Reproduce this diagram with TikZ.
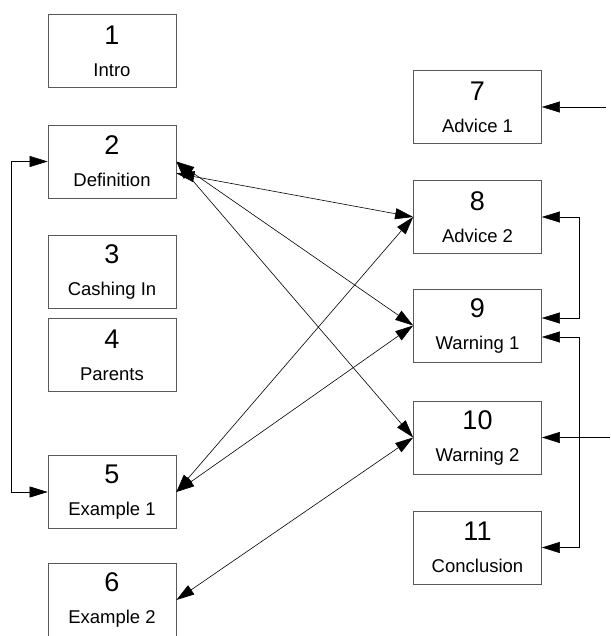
\documentclass[tikz,border=0pt]{standalone}
\usepackage{fontspec}
\setmainfont{Liberation Sans}
\usepackage{tikz}
\usetikzlibrary{arrows.meta}

\newcommand{\pgno}[1]{{\fontsize{27}{27}\selectfont #1}}

\begin{document}
\begin{tikzpicture}[x=1pt,y=-1pt,
    page/.style={draw=black!65,line width=0.7pt,minimum width=128pt,minimum height=73pt,align=center,font=\fontsize{18.5}{32}\selectfont},
    link/.style={line width=0.6pt,{Triangle[length=18pt,width=11pt]}-{Triangle[length=18pt,width=11pt]}},
    feed/.style={line width=0.6pt,{Triangle[length=18pt,width=11pt]}-}] %
    \useasboundingbox (0,0) rectangle (610,636);
    % left column
    \node[page] (intro) at (112,51) {\pgno{1}\\Intro} ; %
    \node[page] (defn) at (112,161.5) {\pgno{2}\\Definition} ; %
    \node[page] (cash) at (112,272) {\pgno{3}\\Cashing In} ; %
    \node[page] (parents) at (112,355) {\pgno{4}\\Parents} ;
    \node[page] (ex1) at (112,492) {\pgno{5}\\Example 1} ;
    \node[page] (ex2) at (112,600) {\pgno{6}\\Example 2} ;
    % right column
    \node[page] (adv1) at (477.5,107) {\pgno{7}\\Advice 1} ; %
    \node[page] (adv2) at (477.5,217) {\pgno{8}\\Advice 2} ;
    \node[page] (warn1) at (477.5,325.5) {\pgno{9}\\Warning 1} ;
    \node[page] (warn2) at (477.5,437.5) {\pgno{10}\\Warning 2} ;
    \node[page] (concl) at (477.5,547.5) {\pgno{11}\\Conclusion} ;
    \coordinate (in7) at (606,107) ;
    \coordinate (in10) at (610,437.5) ;
    \draw[link] (defn)--(adv2.west) ; %
    \draw[link] (defn.east)--(warn1.west) ;
    \draw[link] (defn.east)--(warn2.west) ;
    \draw[link] (ex1.east)--(adv2.west) ;
    \draw[link] (ex1.east)--(warn1.west) ;
    \draw[link] (ex2.east)--(warn2.west) ;
    \draw[link] (defn.west) -- ++(-36,0) |- (ex1.west) ;
    \draw[link] (adv2.east) -- ++(37,0) |- ([yshift=7.5pt]warn1.east) ;
    \draw[link] ([yshift=-11.5pt]warn1.east) -- ++(37,0) |- (concl.east) ;
    \draw[feed] (adv1.east)--(in7) ;
    \draw[feed] (warn2.east)--(in10) ;
  \end{tikzpicture}
\end{document}
